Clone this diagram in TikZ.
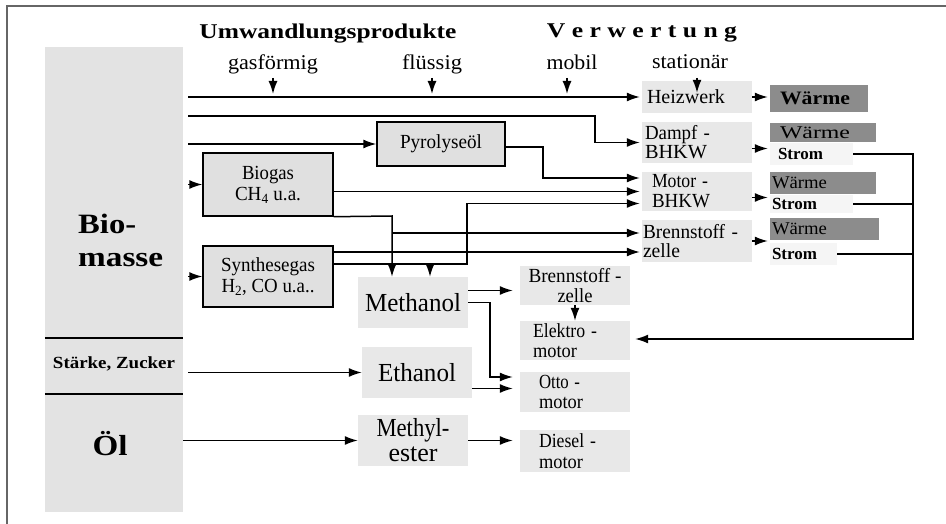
\documentclass[tikz,border=0pt]{standalone}
\usepackage{fontspec}
\setmainfont{Liberation Serif}
\usetikzlibrary{arrows.meta}
\newcommand{\fs}[2]{\fontsize{#1}{#2}\selectfont}
\newcommand{\hfit}[2]{\resizebox{#1}{\height}{#2}}
\begin{document}
\begin{tikzpicture}[x=1pt,y=-1pt,
  ln/.style={line width=1.5pt},
  arr/.style={ln,-{Latex[length=13pt,width=9pt]}},
  txt/.style={inner sep=0pt},
  lbox/.style={fill=black!9, inner sep=0pt},
  framebox/.style={fill=black!12, draw=black, line width=1.4pt, inner sep=0pt},
  wbox/.style={fill=black!45, inner sep=0pt, align=left},
  sbox/.style={fill=black!4, inner sep=0pt, align=left},
]
\useasboundingbox (0,0) rectangle (946,524);
\draw[black!60, line width=2pt] (7,524) -- (7,6) -- (946,6);

% left column
\node[fill=black!11, minimum width=138pt, minimum height=465pt, inner sep=0pt] (col) at (114,279.5) {};
\coordinate (sep1) at (0,338);
\coordinate (sep2) at (0,394);
\draw[ln] (col.west |- sep1) -- (col.east |- sep1);
\draw[ln] (col.west |- sep2) -- (col.east |- sep2);
\node[txt, anchor=west, font=\fs{28}{28}\bfseries] (bio) at (78,224) {\hfit{58pt}{Bio-}};
\node[txt, anchor=west, font=\fs{28}{28}\bfseries] (masse) at (78,260) {\hfit{85pt}{masse}};
\node[txt, font=\fs{17}{17}\bfseries] (starke) at (114,364) {\hfit{122pt}{Stärke, Zucker}};
\node[txt, font=\fs{29}{29}\bfseries] (oel) at (110,444) {\hfit{35pt}{Öl}};

% headers
\node[txt, font=\fs{21}{21}\bfseries] (umw) at (328,34) {\hfit{257pt}{Umwandlungsprodukte}};
\node[txt, font=\fs{21}{21}\bfseries] (verw) at (642,33) {\hfit{190pt}{V e r w e r t u n g}};
\node[txt, font=\fs{21}{21}] (gas) at (273,64) {\hfit{90pt}{gasförmig}};
\node[txt, font=\fs{21}{21}] (fl) at (432,64) {\hfit{60pt}{flüssig}};
\node[txt, font=\fs{21}{21}] (mob) at (572,62) {\hfit{51pt}{mobil}};
\node[txt, font=\fs{21}{21}] (stat) at (690,62) {\hfit{76pt}{stationär}};
\coordinate (hdtop) at (0,78);
\coordinate (hdbot) at (0,94);
\path ([xshift=-5pt]mob.center) coordinate (mobx);

% stationary plants
\node[lbox, minimum height=32pt, text width=100pt, inner xsep=5pt, align=left, font=\fs{20}{20}] (heiz) at (697,97) {\hfit{78pt}{Heizwerk}};
\node[lbox, minimum height=41pt, text width=104pt, inner xsep=3pt, align=left, font=\fs{20}{19}] (dampf) at (697,142.5) {\hfit{65pt}{Dampf -}\\\hfit{62pt}{BHKW}};
\node[lbox, minimum height=39pt, text width=90pt, inner xsep=10pt, align=left, font=\fs{20}{20}] (motor) at (697,191.5) {\hfit{56pt}{Motor -}\\\hfit{58pt}{BHKW}};
\node[lbox, minimum height=42pt, text width=108pt, inner xsep=1pt, align=left, font=\fs{20}{19}] (bzs) at (697,241) {\hfit{95pt}{Brennstoff -}\\\hfit{37pt}{zelle}};

% outputs
\node[wbox, minimum height=27pt, text width=78pt, inner xsep=10pt, font=\fs{19}{19}\bfseries] (w1) at (819,98.5) {\hfit{70pt}{Wärme}};
\node[wbox, minimum height=19pt, text width=86pt, inner xsep=10pt, font=\fs{18}{18}] (w2) at (823,132.5) {\hfit{70pt}{Wärme}};
\node[sbox, minimum height=22pt, text width=67pt, inner xsep=8pt, font=\fs{17}{17}\bfseries] (st1) at (811.5,154) {\hfit{45pt}{Strom}};
\node[wbox, minimum height=22pt, text width=102pt, inner xsep=2pt, font=\fs{18}{18}] (w3) at (823,183) {\hfit{55pt}{Wärme}};
\node[sbox, minimum height=18pt, text width=79pt, inner xsep=2pt, font=\fs{17}{17}\bfseries] (st2) at (811.5,204) {\hfit{45pt}{Strom}};
\node[wbox, minimum height=22pt, text width=105pt, inner xsep=2pt, font=\fs{18}{18}] (w4) at (824.5,229) {\hfit{55pt}{Wärme}};
\node[sbox, minimum height=22pt, text width=63pt, inner xsep=2pt, font=\fs{17}{17}\bfseries] (st3) at (803.5,254) {\hfit{45pt}{Strom}};

% conversion products
\node[framebox, minimum width=128pt, minimum height=44pt, font=\fs{20}{20}] (pyro) at (441,144) {\hfit{82pt}{Pyrolyseöl}};
\node[framebox, minimum width=130pt, minimum height=63pt, align=center, font=\fs{20}{21}] (biogas) at (268,184.5) {\hfit{52pt}{Biogas}\\\hfit{66pt}{CH\textsubscript{4} u.a.}};
\node[framebox, minimum width=130pt, minimum height=61pt, align=center, font=\fs{20}{21}] (synth) at (268,276.5) {\hfit{94pt}{Synthesegas}\\\hfit{93pt}{H\textsubscript{2}, CO u.a..}};
\node[lbox, minimum width=110pt, minimum height=51pt, font=\fs{26}{26}] (methanol) at (413,302.5) {\hfit{96pt}{Methanol}};
\node[lbox, minimum width=110pt, minimum height=51pt, font=\fs{26}{26}] (ethanol) at (417,372.5) {\hfit{78pt}{Ethanol}};
\node[lbox, minimum width=110pt, minimum height=51pt, align=center, font=\fs{26}{25}] (methyl) at (413,440.5) {\hfit{73pt}{Methyl-}\\\hfit{49pt}{ester}};

% mobile use
\node[lbox, minimum width=110pt, minimum height=39pt, align=center, font=\fs{20}{20}] (bzm) at (575,285.5) {\hfit{93pt}{Brennstoff -}\\\hfit{35pt}{zelle}};
\node[lbox, minimum height=39pt, text width=84pt, inner xsep=13pt, align=left, font=\fs{20}{20}] (elektro) at (575,340.5) {\hfit{64pt}{Elektro -}\\\hfit{44pt}{motor}};
\node[lbox, minimum height=40pt, text width=72pt, inner xsep=19pt, align=left, font=\fs{20}{20}] (otto) at (575,392) {\hfit{41pt}{Otto -}\\\hfit{44pt}{motor}};
\node[lbox, minimum height=42pt, text width=72pt, inner xsep=19pt, align=left, font=\fs{20}{21}] (diesel) at (575,451) {\hfit{57pt}{Diesel -}\\\hfit{44pt}{motor}};

% header arrows
\draw[arr] (gas.center |- hdtop) -- (gas.center |- hdbot);
\draw[arr] (fl.center |- hdtop) -- (fl.center |- hdbot);
\draw[arr] (mobx |- hdtop) -- (mobx |- hdbot);
\draw[arr] (heiz.north |- hdtop) -- ([yshift=-12pt]heiz.north);

% helper coordinates
\coordinate (colR) at (188,0);
\coordinate (k2) at (595,116);
\coordinate (k4) at (543,178);
\coordinate (k6) at (392,216);
\coordinate (k9) at (467,264);
\coordinate (k10) at (430,264);
\coordinate (k14) at (490,377);
\coordinate (kx) at (913,339);
\path ([yshift=8pt]bzs.west) coordinate (bz1);
\path ([yshift=-11pt]bzs.west) coordinate (bz2);
\path ([yshift=-12pt]motor.west) coordinate (m3);

% from biomass
\draw[arr, shorten >=2pt] (colR |- heiz.west) -- (heiz.west);
\draw[arr, shorten >=2pt] (colR |- k2) -- (k2) |- (dampf.west);
\draw[arr] (colR |- pyro.west) -- (pyro.west);
\draw[arr] (colR |- biogas.west) -- (biogas.west);
\draw[arr] (colR |- synth.west) -- (synth.west);
\draw[arr] (colR |- ethanol.west) -- (ethanol.west);
\draw[arr] (col.east |- methyl.west) -- (methyl.west);

% to stationary plants
\draw[arr, shorten >=2pt] ([yshift=-3pt]pyro.east) -| (k4) -- (k4 -| motor.west);
\draw[arr, shorten >=2pt] (biogas.east |- motor.west) -- (motor.west);
\draw[arr, shorten >=2pt] (synth.east |- k9) -- (k9) |- (m3);
\draw[arr, shorten >=2pt] (k6 |- bz1) -- (bz1);
\draw[arr, shorten >=2pt] (synth.east |- bz2) -- (bz2);

% to methanol
\draw[arr] (biogas.south east) -- (k6) -- (k6 |- methanol.north);
\draw[arr] (k10) -- (k10 |- methanol.north);

% mobile
\draw[arr, shorten >=7pt] ([yshift=12pt]methanol.east) coordinate (a13) -- (a13 -| bzm.west);
\draw[arr, shorten >=7pt] (methanol.east) -| (k14) -- (k14 -| otto.west);
\draw[arr, shorten >=7pt] ([yshift=-16pt]ethanol.east) coordinate (a15) -- (a15 -| otto.west);
\draw[arr, shorten >=7pt] (methyl.east) -- (methyl.east -| diesel.west);
\draw[arr] (bzm.south) -- (elektro.north);

% outputs of plants
\draw[arr, shorten >=2pt] (heiz.east) -- (heiz.east -| w1.west);
\draw[arr, shorten >=2pt] ([yshift=-6pt]dampf.east) coordinate (a21) -- (a21 -| w2.west);
\draw[arr, shorten >=2pt] ([yshift=-6pt]motor.east) coordinate (a22) -- (a22 -| w3.west);
\draw[arr, shorten >=2pt] (bzs.east) -- (bzs.east -| w4.west);

% electricity feedback
\draw[arr, shorten >=5pt] (st1.east) -| (kx) -- (kx -| elektro.east);
\draw[ln] (st2.east) -- (st2.east -| kx);
\draw[ln] (st3.east) -- (st3.east -| kx);
\end{tikzpicture}
\end{document}
